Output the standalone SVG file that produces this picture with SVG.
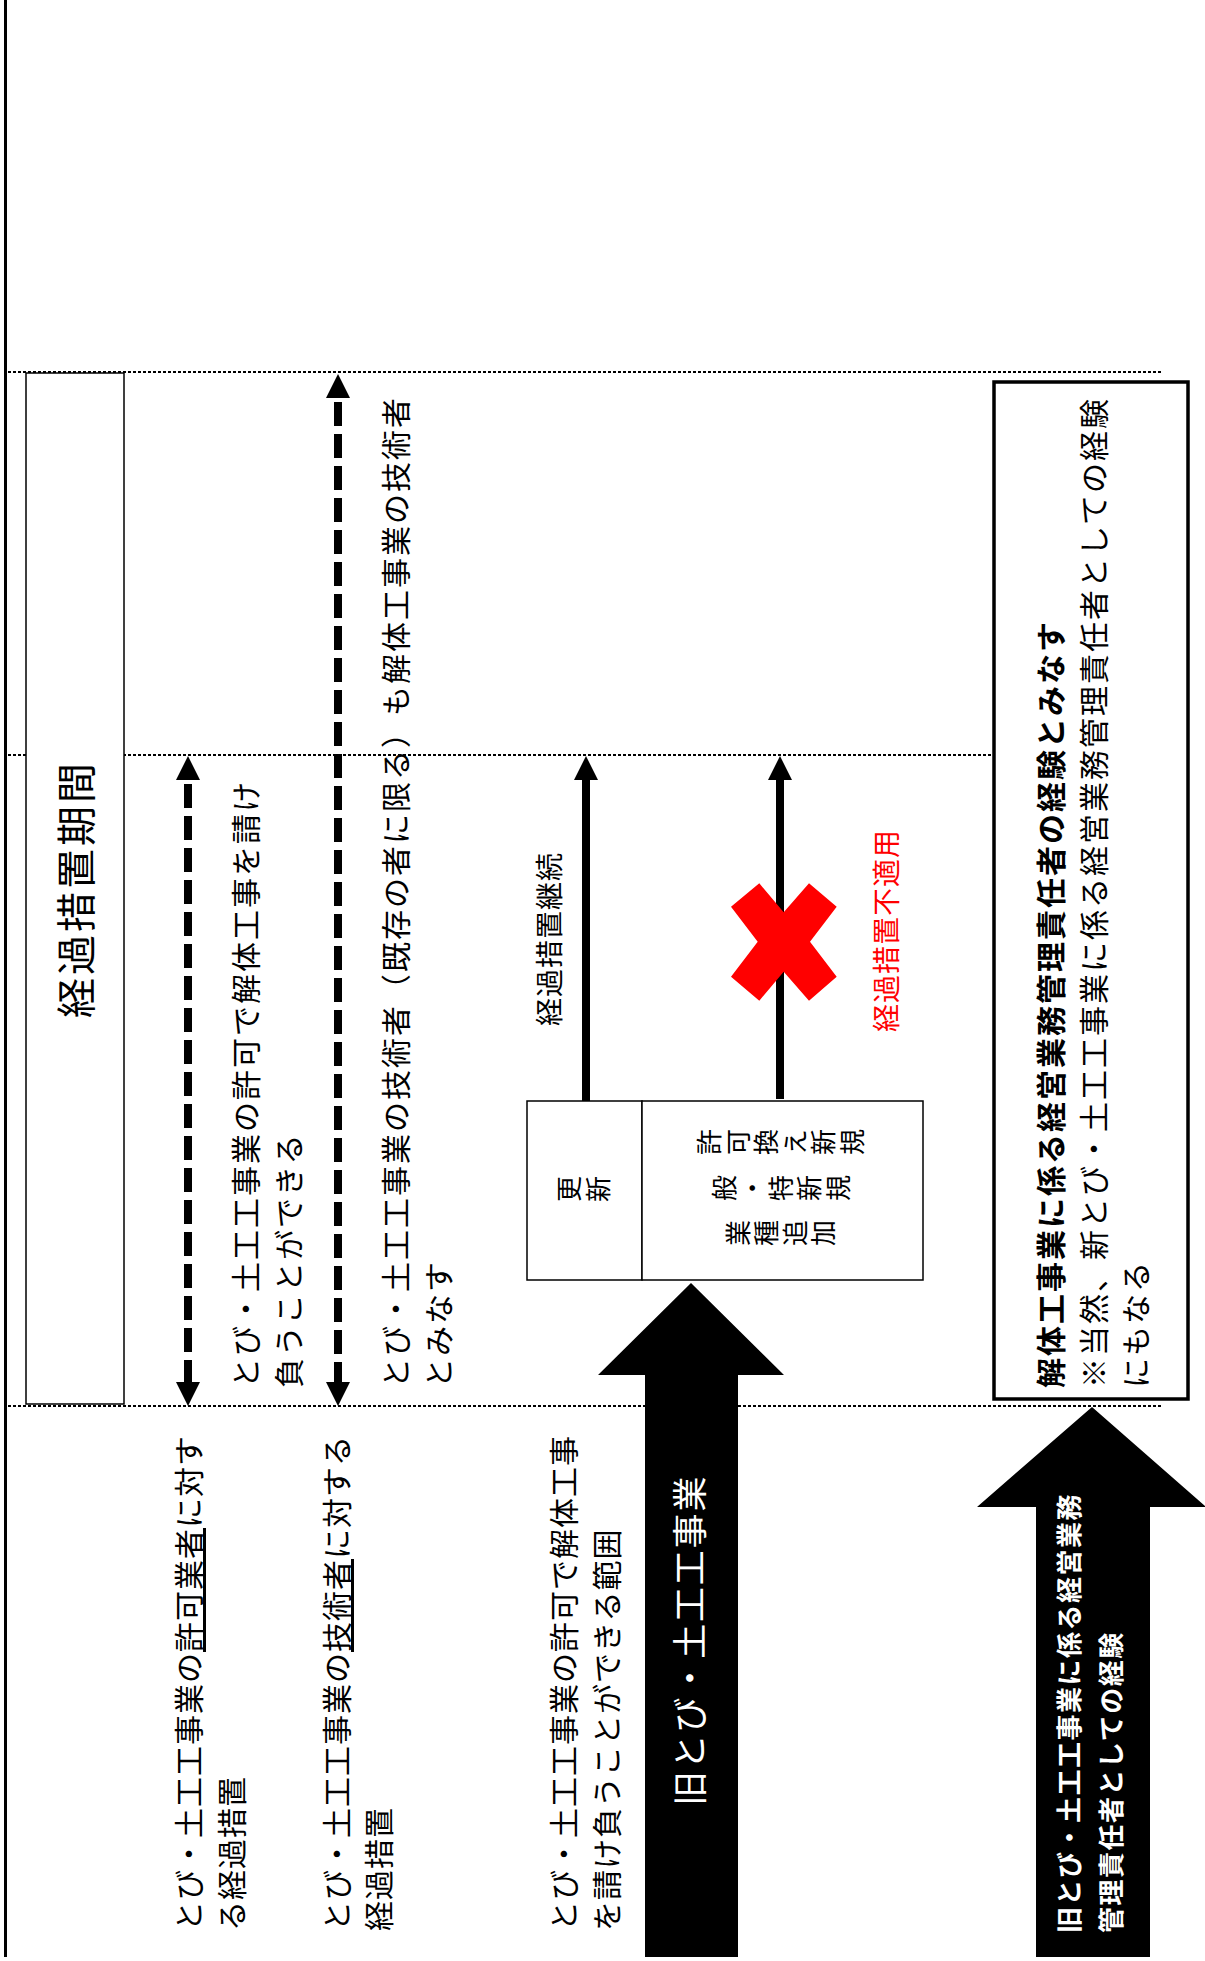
<svg xmlns="http://www.w3.org/2000/svg" width="1205" height="1961" viewBox="0 0 1205 1961">
<style>
.t{font-family:"Noto Sans CJK JP","Noto Sans CJK SC",sans-serif;dominant-baseline:central;fill:#000}
.f30{font-size:30px;letter-spacing:2px}
.f30b{font-size:30px;letter-spacing:1px}
.f28{font-size:28px;letter-spacing:1px}
.f26{font-size:26px;letter-spacing:2.5px}
.b{font-weight:bold}
.w{fill:#fff}
.red{fill:#ff0000}
.dot{stroke:#000;stroke-width:2;stroke-dasharray:3 2;fill:none}
.dash{stroke:#000;stroke-width:8;stroke-dasharray:24 8;fill:none}
.sol{stroke:#000;stroke-width:8;fill:none}
.box{fill:#fff;stroke:#000;stroke-width:1.5}
.ul{text-decoration:underline}
</style>
<rect x="0" y="0" width="1205" height="1961" fill="#fff"/>

<g id="frame">
  <line x1="5.5" y1="0" x2="5.5" y2="1957" stroke="#000" stroke-width="3"/>
  <line class="dot" x1="8" y1="372" x2="1163" y2="372"/>
  <line class="dot" x1="8" y1="755" x2="995" y2="755"/>
  <line class="dot" x1="8" y1="1406" x2="1163" y2="1406"/>
</g>

<g id="period">
  <rect class="box" x="26" y="373" width="98" height="1031"/>
  <text class="t" transform="translate(74,889) rotate(-90)" text-anchor="middle" style="font-size:40px;letter-spacing:3px">経過措置期間</text>
</g>

<g id="connectors">
  <line class="dash" x1="188" y1="784" x2="188" y2="1383"/>
  <polygon points="188,756 176,780 200,780" fill="#000"/>
  <polygon points="188,1406 176,1382 200,1382" fill="#000"/>
  <line class="dash" x1="338" y1="402" x2="338" y2="1383"/>
  <polygon points="338,374 326,398 350,398" fill="#000"/>
  <polygon points="338,1406 326,1382 350,1382" fill="#000"/>
  <line class="sol" x1="586" y1="778" x2="586" y2="1101"/>
  <polygon points="586,756 574,780 598,780" fill="#000"/>
  <line class="sol" x1="780" y1="778" x2="780" y2="1099"/>
  <polygon points="780,756 768,780 792,780" fill="#000"/>
</g>

<g id="cross">
  <polygon class="red" points="731,906.7 759.3,883.3 783.7,912.3 809,883.3 836.7,906.7 810,941.7 836.7,976.7 809,1000.7 783.7,971.7 759.3,1000.7 731,976.7 757.7,941.7"/>
</g>

<g id="label-permit">
  <text class="t f30" transform="translate(244,1388) rotate(-90)">とび・土工工事業の許可で解体工事を請け</text>
  <text class="t f30" transform="translate(287,1388) rotate(-90)">負うことができる</text>
</g>

<g id="label-engineer">
  <text class="t f30" transform="translate(394,1388) rotate(-90)">とび・土工工事業の技術者（既存の者に限る）も解体工事業の技術者</text>
  <text class="t f30" transform="translate(437,1388) rotate(-90)">とみなす</text>
</g>

<g id="label-continue">
  <text class="t f28" transform="translate(548,1026) rotate(-90)">経過措置継続</text>
</g>

<g id="label-notapply">
  <text class="t f28 red" transform="translate(885,1032) rotate(-90)">経過措置不適用</text>
</g>

<g id="box-renewal">
  <rect class="box" x="527" y="1101" width="115" height="179"/>
  <text class="t f26" transform="translate(585,1189) rotate(-90)" writing-mode="vertical-rl" text-anchor="middle" x="0" y="0">更新</text>
</g>

<g id="box-new">
  <rect class="box" x="642" y="1101" width="281" height="179"/>
  <text class="t f26" transform="translate(782,1142) rotate(-90)" writing-mode="vertical-rl" text-anchor="middle" x="0" y="0">許可換え新規</text>
  <text class="t f26" transform="translate(782,1188) rotate(-90)" writing-mode="vertical-rl" text-anchor="middle" x="0" y="0">般・特新規</text>
  <text class="t f26" transform="translate(782,1233) rotate(-90)" writing-mode="vertical-rl" text-anchor="middle" x="0" y="0">業種追加</text>
</g>

<g id="arrow-old-business">
  <polygon points="691,1283 598,1375 645,1375 645,1957 738,1957 738,1375 784,1375" fill="#000"/>
  <text class="t w" transform="translate(687,1806) rotate(-90)" style="font-size:35px;letter-spacing:1.8px">旧とび・土工工事業</text>
</g>

<g id="box-management">
  <rect x="994" y="382" width="194" height="1017" fill="#fff" stroke="#000" stroke-width="3.5"/>
  <text class="t f30 b" transform="translate(1049,1388) rotate(-90)">解体工事業に係る経営業務管理責任者の経験とみなす</text>
  <text class="t f30" transform="translate(1092,1388) rotate(-90)">※当然、新とび・土工工事業に係る経営業務管理責任者としての経験</text>
  <text class="t f30" transform="translate(1134,1388) rotate(-90)">にもなる</text>
</g>

<g id="arrow-old-management">
  <polygon points="1092,1407 977,1507 1036,1507 1036,1957 1150,1957 1150,1507 1205,1507 1205,1506" fill="#000"/>
  <text class="t w b" transform="translate(1067,1933) rotate(-90)" style="font-size:26px;letter-spacing:1.5px">旧とび・土工工事業に係る経営業務</text>
  <text class="t w b" transform="translate(1109,1933) rotate(-90)" style="font-size:26px;letter-spacing:1.5px">管理責任者としての経験</text>
</g>

<g id="label-bottom-permit">
  <text class="t f30b" transform="translate(187,1931) rotate(-90)">とび・土工工事業の<tspan class="ul">許可業者</tspan>に対す</text>
  <text class="t f30b" transform="translate(230,1931) rotate(-90)">る経過措置</text>
</g>

<g id="label-bottom-engineer">
  <text class="t f30b" transform="translate(335,1931) rotate(-90)">とび・土工工事業の<tspan class="ul">技術者</tspan>に対する</text>
  <text class="t f30b" transform="translate(377,1931) rotate(-90)">経過措置</text>
</g>

<g id="label-bottom-range">
  <text class="t f30b" transform="translate(562,1931) rotate(-90)">とび・土工工事業の許可で解体工事</text>
  <text class="t f30b" transform="translate(605,1931) rotate(-90)">を請け負うことができる範囲</text>
</g>
</svg>
